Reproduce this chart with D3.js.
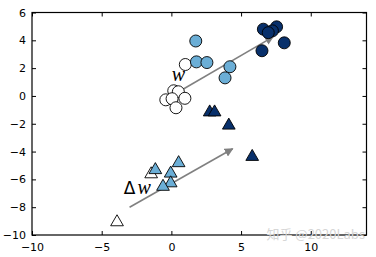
<!DOCTYPE html>
<html>
<head>
<meta charset="utf-8">
<script src="https://cdn.jsdelivr.net/npm/d3@7"></script>
<style>
  body { margin: 0; background: #fff; }
  .axis text { font-family: "DejaVu Sans", sans-serif; font-size: 11px; fill: #000; }
  .axis path { display: none; }
  .axis line { stroke: #000; }
</style>
</head>
<body>
<svg id="chart" width="376" height="257"></svg>
<script>
// circles (top group), three shades
const whiteCircleX = [1.0, 0.17, 0.5, -0.4, 0.05, 0.97, 0.33]
const whiteCircleY = [2.26, 0.37, 0.3, -0.28, -0.2, -0.17, -0.85]
const lightCircleX = [1.75, 1.8, 2.55, 4.2, 3.85]
const lightCircleY = [3.95, 2.45, 2.4, 2.1, 1.3]
const darkCircleX = [6.6, 7.55, 7.25, 6.95, 8.1, 6.5]
const darkCircleY = [4.8, 4.97, 4.68, 4.55, 3.82, 3.25]

// triangles (bottom group)
const whiteTriX = [-1.45, -3.9]
const whiteTriY = [-5.55, -9.0]
const lightTriX = [-1.15, 0.52, -0.05, -0.05, -0.6]
const lightTriY = [-5.25, -4.75, -5.5, -6.2, -6.45]
const darkTriX = [2.75, 3.1, 4.12, 5.8]
const darkTriY = [-1.1, -1.1, -2.05, -4.3]

// arrows: start and end in data units
const arrowX0 = [0, -3]
const arrowY0 = [0, -8]
const arrowX1 = [7.3, 4.4]
const arrowY1 = [4.25, -3.8]

const xTicks = [-10, -5, 0, 5, 10]
const yTicks = [-10, -8, -6, -4, -2, 0, 2, 4, 6]

const margin = { left: 32, top: 12.5, right: 9.5, bottom: 22 }
const width = 376 - margin.left - margin.right
const height = 257 - margin.top - margin.bottom

const svg = d3.select("#chart")
const g = svg.append("g")
  .attr("transform", "translate(" + margin.left + "," + margin.top + ")")

const x = d3.scaleLinear().domain([-10, 14]).range([0, width])
const y = d3.scaleLinear().domain([-10, 6]).range([height, 0])

const fmt = d => d < 0 ? "\u2212" + Math.abs(d) : "" + d

// axes with inward ticks on all four sides
g.append("g").attr("class", "axis")
  .attr("transform", "translate(0," + height + ")")
  .call(d3.axisBottom(x).tickValues(xTicks).tickSize(-4).tickPadding(8).tickFormat(fmt))
g.append("g").attr("class", "axis")
  .call(d3.axisTop(x).tickValues(xTicks).tickSize(-4).tickFormat(""))
g.append("g").attr("class", "axis")
  .call(d3.axisLeft(y).tickValues(yTicks).tickSize(-4).tickPadding(6).tickFormat(fmt))
g.append("g").attr("class", "axis")
  .attr("transform", "translate(" + width + ",0)")
  .call(d3.axisRight(y).tickValues(yTicks).tickSize(-4).tickFormat(""))

g.append("rect")
  .attr("width", width).attr("height", height)
  .attr("fill", "none").attr("stroke", "#000").attr("stroke-width", 1.2)

// arrows
svg.append("defs").append("marker")
  .attr("id", "head")
  .attr("viewBox", "0 0 10 10")
  .attr("refX", 9).attr("refY", 5)
  .attr("markerWidth", 5.5).attr("markerHeight", 5.5)
  .attr("markerUnits", "strokeWidth")
  .attr("orient", "auto")
  .append("path").attr("d", "M0,0 L10,5 L0,10 Z").attr("fill", "#808080")

g.selectAll(".arrow")
  .data(arrowX0.map((d, i) => i))
  .enter().append("line")
  .attr("class", "arrow")
  .attr("x1", i => x(arrowX0[i])).attr("y1", i => y(arrowY0[i]))
  .attr("x2", i => x(arrowX1[i])).attr("y2", i => y(arrowY1[i]))
  .attr("stroke", "#808080").attr("stroke-width", 1.6)
  .attr("marker-end", "url(#head)")

const zip = (xs, ys) => xs.map((d, i) => [d, ys[i]])

function drawCircles(xs, ys, fill) {
  g.append("g").selectAll("circle")
    .data(zip(xs, ys))
    .enter().append("circle")
    .attr("cx", d => x(d[0])).attr("cy", d => y(d[1]))
    .attr("r", 6)
    .attr("fill", fill).attr("stroke", "#000").attr("stroke-width", 0.9)
}

const tri = d3.symbol().type(d3.symbolTriangle).size(70)
function drawTriangles(xs, ys, fill) {
  g.append("g").selectAll("path")
    .data(zip(xs, ys))
    .enter().append("path")
    .attr("d", tri)
    .attr("transform", d => "translate(" + x(d[0]) + "," + (y(d[1]) + 1) + ")")
    .attr("fill", fill).attr("stroke", "#000").attr("stroke-width", 0.9)
}

drawTriangles(whiteTriX, whiteTriY, "#ffffff")
drawTriangles(lightTriX, lightTriY, "#6baed6")
drawTriangles(darkTriX, darkTriY, "#08306b")
drawCircles(whiteCircleX, whiteCircleY, "#ffffff")
drawCircles(lightCircleX, lightCircleY, "#6baed6")
drawCircles(darkCircleX, darkCircleY, "#08306b")

// labels
const serif = '"Liberation Serif", "DejaVu Serif", serif'
g.append("text")
  .attr("x", x(0.5)).attr("y", y(1.05))
  .attr("text-anchor", "middle")
  .style("font-family", serif).style("font-style", "italic").style("font-size", "20px")
  .text("w")

const dl = g.append("text")
  .attr("x", x(-2.45)).attr("y", y(-7.05))
  .attr("text-anchor", "middle")
  .style("font-family", serif).style("font-size", "20px")
dl.append("tspan").style("font-family", '"DejaVu Sans", sans-serif')
  .style("font-size", "17px").text("\u0394")
dl.append("tspan").attr("dx", 2).style("font-style", "italic").text("w")

// watermark
svg.append("text")
  .attr("x", 365).attr("y", 239)
  .attr("text-anchor", "end")
  .style("font-family", '"Noto Sans CJK SC", sans-serif').style("font-size", "13px")
  .attr("fill", "#d6d6d6")
  .text("知乎 @2020Labs")
</script>
</body>
</html>
